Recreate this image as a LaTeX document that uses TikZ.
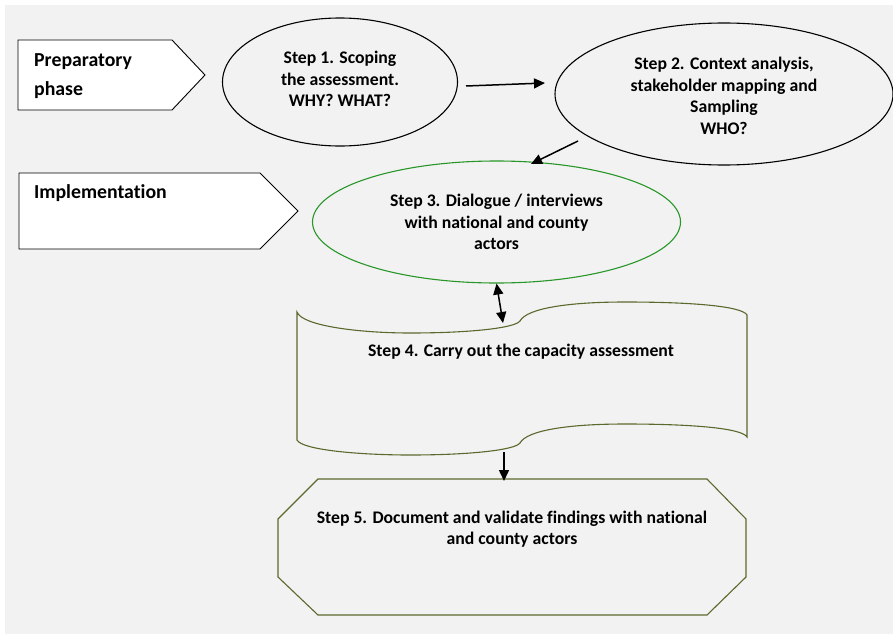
\documentclass[tikz,border=0pt]{standalone}
\usepackage{fontspec}
\setmainfont{Carlito}[Ligatures=NoCommon]
\usetikzlibrary{shapes.geometric,arrows.meta}
\definecolor{bg}{HTML}{F2F2F2}
\definecolor{olivec}{RGB}{90,105,45}
\definecolor{grn}{RGB}{40,150,40}
\begin{document}
\begin{tikzpicture}[x=1pt,y=-1pt,
  txt/.style={font=\bfseries\fontsize{17.7}{21.5}\selectfont, align=center, inner sep=0pt},
  phasetxt/.style={font=\bfseries\fontsize{19.8}{29}\selectfont, align=left, inner sep=0pt, anchor=west},
  oval/.style={ellipse, draw, line width=1.1pt, txt},
  arr/.style={line width=1.5pt, -{Triangle[length=11pt,width=10pt]}},
  darr/.style={line width=1.5pt, {Triangle[length=11pt,width=10pt]}-{Triangle[length=11pt,width=10pt]}},
  phase/.style={draw, fill=white, line width=0.9pt},
  olbox/.style={draw=olivec, line width=1.1pt}]
\useasboundingbox (0,0) rectangle (893,634);
\fill[bg] (5,5) rectangle (893,634);

% phase labels
\draw[phase] (18,40) -- (172,40) -- (205,75) -- (172,110) -- (18,110) -- cycle;
\node[phasetxt] (prep) at (34,76) {Preparatory\\phase};
\draw[phase] (19,173) -- (260,173) -- (298,211) -- (260,249) -- (19,249) -- cycle;
\node[phasetxt] (impl) at (34,193) {Implementation};

% ellipses
\node[oval, minimum width=235pt, minimum height=128pt] (s1) at (340,82) {};
\node[txt] (s1t) at (340,79) {Step 1. Scoping\\the assessment.\\WHY? WHAT?};
\node[oval, minimum width=338pt, minimum height=142pt] (s2) at (724,94) {};
\node[txt] (s2t) at (724,96) {Step 2. Context analysis,\\stakeholder mapping and\\Sampling\\WHO?};
\node[oval, draw=grn, minimum width=368pt, minimum height=122pt] (s3) at (496.5,222) {Step 3. Dialogue / interviews\\with national and county\\actors};

% step 4 wave shape
\draw[olbox] (297,312) .. controls (302,326) and (360,333) .. (410,333)
  .. controls (470,333) and (515,328) .. (520,321)
  .. controls (527,308) and (570,302) .. (625,302)
  .. controls (690,302) and (742,306) .. (747,315)
  -- (747,437)
  .. controls (742,428) and (690,424) .. (625,424)
  .. controls (570,424) and (527,430) .. (520,443)
  .. controls (515,450) and (470,455) .. (410,455)
  .. controls (360,455) and (302,450) .. (297,440) -- cycle;
\node[txt] (s4) at (521,352) {Step 4. Carry out the capacity assessment};

% step 5 octagon
\draw[olbox] (318,479) -- (707,479) -- (746,519) -- (746,577) -- (707,615)
  -- (318,615) -- (278,577) -- (278,519) -- cycle;
\node[txt] (s5) at (512,529) {Step 5. Document and validate findings with national\\and county actors};

% connector end points
\coordinate (a1s) at (466,86);
\coordinate (a1e) at (545,83);
\coordinate (a2s) at (578,141);
\coordinate (a2e) at (531,164);
\coordinate (s4top) at (503,323);
\coordinate (s4bot) at (504,452);
\coordinate (s5top) at (504,481);

\draw[arr] (a1s) -- (a1e);
\draw[arr] (a2s) -- (a2e);
\draw[darr] (s3.south) -- (s4top);
\draw[arr] (s4bot) -- (s5top);
\end{tikzpicture}
\end{document}
